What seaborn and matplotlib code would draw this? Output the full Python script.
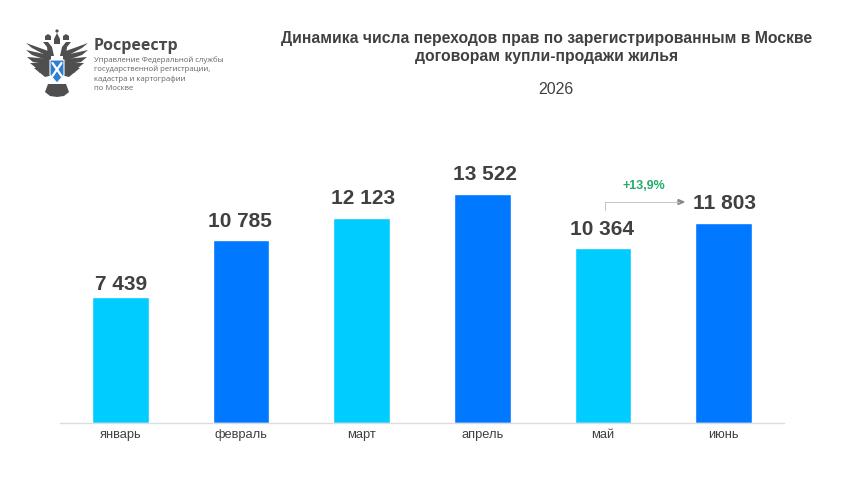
import matplotlib
matplotlib.use("Agg")
import matplotlib.pyplot as plt
from matplotlib.patches import Polygon, Circle
import numpy as np
import pandas as pd
import seaborn as sns

months = ["январь", "февраль", "март", "апрель", "май", "июнь"]
values = [7439, 10785, 12123, 13522, 10364, 11803]
labels = ["7 439", "10 785", "12 123", "13 522", "10 364", "11 803"]
colors = ["#00CCFF", "#0078FF", "#00CCFF", "#0078FF", "#00CCFF", "#0078FF"]
title = "Динамика числа переходов прав по зарегистрированным в Москве\nдоговорам купли-продажи жилья"
year = "2026"
growth = "+13,9%"
org = "Росреестр"
org_sub = ["Управление Федеральной службы", "государственной регистрации,", "кадастра и картографии", "по Москве"]

sns.set_theme(style="white")
plt.rcParams["font.family"] = ["Liberation Sans", "DejaVu Sans"]
W, H = 868, 483
fig = plt.figure(figsize=(W / 100, H / 100), dpi=100, facecolor="white")
ax = fig.add_axes([60 / W, (H - 423) / H, 724 / W, 273 / H])
df = pd.DataFrame({"m": months, "v": values})
sns.barplot(data=df, x="m", y="v", hue="m", palette=colors, legend=False,
            width=0.47, saturation=1, ax=ax)
ax.set_xlim(-0.5, 5.5)
ax.set_ylim(0, 16130)
ax.set_xlabel("")
ax.set_ylabel("")
ax.set_yticks([])
sns.despine(ax=ax, left=True)
ax.spines["bottom"].set_color("#dcdcdc")
ax.spines["bottom"].set_linewidth(1)
ax.tick_params(axis="x", length=0, pad=4, labelsize=9.3, labelcolor="#404040")
label_dx = [0.5, -1.5, 1.5, 2.5, -1, 0.5]
label_dy = [3, 9, 10, 10, 9, 10]
for i, (v, s) in enumerate(zip(values, labels)):
    ax.annotate(s, (i, v), xytext=(label_dx[i], label_dy[i]), textcoords="offset pixels", ha="center", va="bottom",
                fontsize=15, fontweight="bold", color="#404040")


def fx(px):
    return px / W


def fy(py):
    return 1 - py / H


fig.text(fx(547), fy(47), title, ha="center", va="center", fontsize=11.3, fontweight="bold",
         color="#404040", linespacing=1.25)
fig.text(fx(556), fy(90), year, ha="center", va="center", fontsize=11.5, color="#404040")

# connector between May and June
fig.add_artist(plt.Line2D([fx(605), fx(605), fx(679)], [fy(210), fy(202), fy(202)],
                          color="#c4c4c4", lw=0.7))
fig.add_artist(Polygon([[fx(678), fy(199.5)], [fx(684), fy(202)], [fx(678), fy(204.5)]],
                       closed=True, color="#8a8a8a", transform=fig.transFigure))
fig.text(fx(644), fy(186), growth, ha="center", va="center", fontsize=9, fontweight="bold", color="#22AD68")

# logo text
fig.text(fx(94), fy(46), org, ha="left", va="center", fontsize=11.5, fontweight="bold", color="#4a4a4a",
         family=["Open Sans", "DejaVu Sans"])
for k, line in enumerate(org_sub):
    fig.text(fx(94), fy(60.5 + k * 9.2), line, ha="left", va="center", fontsize=5.55, color="#666666",
             family=["Open Sans", "DejaVu Sans"])

# simplified emblem
logo = fig.add_axes([22 / W, (H - 98) / H, 70 / W, 70 / H])
logo.set_xlim(22, 92)
logo.set_ylim(98, 28)
logo.axis("off")
DARK = "#4f4f4f"
for sign in (-1, 1):
    def mx(x):
        return 57 + sign * x
    # wing feathers fanning out from the body
    for k, (tipx, tipy) in enumerate([(31, 43), (31, 50), (30, 57), (27, 63), (23, 68), (18, 72)]):
        logo.add_patch(Polygon([[mx(6), 52 + k * 3.5], [mx(tipx), tipy], [mx(tipx - 6), tipy + 5], [mx(6), 58 + k * 3.5]],
                               closed=True, color=DARK, lw=0))
    # neck, head and beak
    logo.add_patch(Polygon([[mx(3), 56], [mx(5), 47], [mx(9), 42], [mx(14), 42], [mx(10), 47], [mx(9), 56]],
                           closed=True, color=DARK, lw=0))
    # small crown
    logo.add_patch(Polygon([[mx(6), 40], [mx(6), 36], [mx(9), 34], [mx(12), 36], [mx(12), 40]],
                           closed=True, color=DARK, lw=0))
    # claw side and tail
    logo.add_patch(Polygon([[mx(0), 84], [mx(9), 84], [mx(12), 92], [mx(7), 96], [mx(0), 97]],
                           closed=True, color=DARK, lw=0))
logo.add_patch(Polygon([[54, 39], [57, 33], [60, 39], [60, 44], [54, 44]], closed=True, color=DARK, lw=0))
logo.add_patch(Circle((57, 31), 1.6, color=DARK, lw=0))
logo.add_patch(Polygon([[50, 60], [64, 60], [64, 75], [57, 83], [50, 75]], closed=True,
                       facecolor="#2F7FD0", edgecolor="white", lw=0.8))
logo.plot([52.5, 61.5], [63, 76], color="white", lw=1.6)
logo.plot([61.5, 52.5], [63, 76], color="white", lw=1.6)

fig.savefig("out.png", dpi=100, facecolor="white")
